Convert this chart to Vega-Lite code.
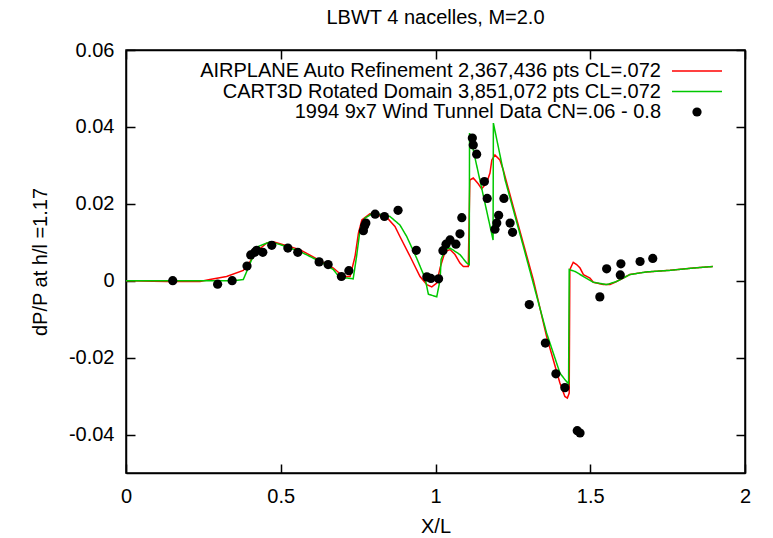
{
  "$schema": "https://vega.github.io/schema/vega-lite/v6.json",
  "width": 619,
  "height": 423,
  "autosize": {"type": "none"},
  "padding": {"left": 126, "top": 50, "right": 28, "bottom": 65},
  "background": "white",
  "title": {"text": "LBWT 4 nacelles, M=2.0", "fontSize": 20, "font": "Liberation Sans", "fontWeight": "normal", "color": "black", "offset": 12, "anchor": "middle"},
  "config": {
    "font": "Liberation Sans",
    "view": {"stroke": "black", "strokeWidth": 1.5},
    "axis": {
      "grid": false,
      "domainColor": "black",
      "domainWidth": 1.5,
      "tickColor": "black",
      "tickWidth": 1.5,
      "tickSize": -9,
      "labelFont": "Liberation Sans",
      "labelFontSize": 20,
      "labelColor": "black",
      "labelFlush": false,
      "labelOverlap": false,
      "titleFont": "Liberation Sans",
      "titleFontSize": 20,
      "titleFontWeight": "normal",
      "titleColor": "black"
    }
  },
  "datasets": {
    "airplane": [
      {"x": 0, "y": 0}, {"x": 0.132, "y": -0.0002}, {"x": 0.239, "y": -0.0002}, {"x": 0.271, "y": 0.0003},
      {"x": 0.325, "y": 0.0011}, {"x": 0.379, "y": 0.0027}, {"x": 0.401, "y": 0.005}, {"x": 0.422, "y": 0.0076},
      {"x": 0.455, "y": 0.0098}, {"x": 0.476, "y": 0.0101}, {"x": 0.562, "y": 0.0081}, {"x": 0.67, "y": 0.0033},
      {"x": 0.702, "y": 0.0011}, {"x": 0.724, "y": 0.0011}, {"x": 0.74, "y": 0.0063}, {"x": 0.751, "y": 0.0124},
      {"x": 0.762, "y": 0.0158}, {"x": 0.788, "y": 0.0174}, {"x": 0.842, "y": 0.0165}, {"x": 0.869, "y": 0.0141},
      {"x": 0.885, "y": 0.0115}, {"x": 0.918, "y": 0.0063}, {"x": 0.95, "y": 0.0011}, {"x": 0.972, "y": -0.001},
      {"x": 0.988, "y": -0.0016}, {"x": 1.004, "y": -0.0006}, {"x": 1.015, "y": 0.0034}, {"x": 1.031, "y": 0.0076},
      {"x": 1.047, "y": 0.0081}, {"x": 1.063, "y": 0.0068}, {"x": 1.079, "y": 0.0046}, {"x": 1.09, "y": 0.0037},
      {"x": 1.106, "y": 0.0037}, {"x": 1.111, "y": 0.0262}, {"x": 1.122, "y": 0.0267}, {"x": 1.138, "y": 0.0252},
      {"x": 1.149, "y": 0.0239}, {"x": 1.165, "y": 0.0254}, {"x": 1.176, "y": 0.028}, {"x": 1.182, "y": 0.0314},
      {"x": 1.192, "y": 0.0327}, {"x": 1.208, "y": 0.0314}, {"x": 1.219, "y": 0.0288}, {"x": 1.251, "y": 0.0193},
      {"x": 1.284, "y": 0.0096}, {"x": 1.316, "y": 0.0003}, {"x": 1.359, "y": -0.0145}, {"x": 1.402, "y": -0.0266},
      {"x": 1.418, "y": -0.0301}, {"x": 1.426, "y": -0.0305}, {"x": 1.432, "y": -0.0292}, {"x": 1.434, "y": 0.0029},
      {"x": 1.445, "y": 0.0048}, {"x": 1.456, "y": 0.0042}, {"x": 1.467, "y": 0.0033}, {"x": 1.478, "y": 0.0016},
      {"x": 1.499, "y": 0.0007}, {"x": 1.51, "y": -0.0004}, {"x": 1.542, "y": -0.001}, {"x": 1.564, "y": -0.001},
      {"x": 1.585, "y": -0.0002}, {"x": 1.628, "y": 0.0016}, {"x": 1.682, "y": 0.0023}, {"x": 1.758, "y": 0.0027},
      {"x": 1.833, "y": 0.0033}, {"x": 1.896, "y": 0.0037}
    ],
    "cart3d": [
      {"x": 0, "y": 0}, {"x": 0.346, "y": 0}, {"x": 0.379, "y": 0.0003}, {"x": 0.39, "y": 0.0024},
      {"x": 0.406, "y": 0.0055}, {"x": 0.427, "y": 0.0089}, {"x": 0.465, "y": 0.0101}, {"x": 0.498, "y": 0.0094},
      {"x": 0.562, "y": 0.0076}, {"x": 0.627, "y": 0.005}, {"x": 0.67, "y": 0.0029}, {"x": 0.691, "y": 0.0007},
      {"x": 0.713, "y": 0.0007}, {"x": 0.734, "y": 0.0005}, {"x": 0.745, "y": 0.0063}, {"x": 0.756, "y": 0.0132},
      {"x": 0.772, "y": 0.0163}, {"x": 0.799, "y": 0.0176}, {"x": 0.853, "y": 0.0167}, {"x": 0.885, "y": 0.0145},
      {"x": 0.907, "y": 0.0115}, {"x": 0.939, "y": 0.0059}, {"x": 0.966, "y": 0.0007}, {"x": 0.977, "y": -0.0035},
      {"x": 1.004, "y": -0.0042}, {"x": 1.015, "y": 0.0003}, {"x": 1.018, "y": 0.0055}, {"x": 1.031, "y": 0.0081},
      {"x": 1.047, "y": 0.0085}, {"x": 1.079, "y": 0.0068}, {"x": 1.101, "y": 0.0046}, {"x": 1.109, "y": 0.0042},
      {"x": 1.11, "y": 0.0384}, {"x": 1.186, "y": 0.0106}, {"x": 1.187, "y": 0.041}, {"x": 1.225, "y": 0.0262},
      {"x": 1.284, "y": 0.0089}, {"x": 1.359, "y": -0.0136}, {"x": 1.402, "y": -0.024}, {"x": 1.418, "y": -0.0257},
      {"x": 1.43, "y": -0.0268}, {"x": 1.432, "y": 0.0029}, {"x": 1.451, "y": 0.0024}, {"x": 1.478, "y": 0.0011},
      {"x": 1.51, "y": -0.0004}, {"x": 1.553, "y": -0.001}, {"x": 1.585, "y": -0.0002}, {"x": 1.628, "y": 0.0016},
      {"x": 1.682, "y": 0.0023}, {"x": 1.758, "y": 0.0027}, {"x": 1.833, "y": 0.0033}, {"x": 1.896, "y": 0.0037}
    ],
    "tunnel": [
      {"x": 0.151, "y": 0}, {"x": 0.296, "y": -0.0009}, {"x": 0.343, "y": 0}, {"x": 0.391, "y": 0.0038},
      {"x": 0.403, "y": 0.0067}, {"x": 0.416, "y": 0.0074}, {"x": 0.422, "y": 0.0079}, {"x": 0.442, "y": 0.0074},
      {"x": 0.471, "y": 0.0092}, {"x": 0.523, "y": 0.0085}, {"x": 0.555, "y": 0.0074}, {"x": 0.624, "y": 0.0049},
      {"x": 0.653, "y": 0.0042}, {"x": 0.696, "y": 0.0011}, {"x": 0.72, "y": 0.0026}, {"x": 0.767, "y": 0.013},
      {"x": 0.771, "y": 0.0143}, {"x": 0.775, "y": 0.015}, {"x": 0.805, "y": 0.0173}, {"x": 0.835, "y": 0.0167},
      {"x": 0.879, "y": 0.0183}, {"x": 0.938, "y": 0.0079}, {"x": 0.972, "y": 0.001}, {"x": 0.985, "y": 0.0006},
      {"x": 1.01, "y": 0.0005}, {"x": 1.024, "y": 0.0078}, {"x": 1.034, "y": 0.0095}, {"x": 1.047, "y": 0.0106},
      {"x": 1.066, "y": 0.0095}, {"x": 1.079, "y": 0.0122}, {"x": 1.085, "y": 0.0164}, {"x": 1.119, "y": 0.0371},
      {"x": 1.122, "y": 0.0353}, {"x": 1.133, "y": 0.0329}, {"x": 1.158, "y": 0.0258}, {"x": 1.167, "y": 0.0214},
      {"x": 1.192, "y": 0.0134}, {"x": 1.198, "y": 0.015}, {"x": 1.204, "y": 0.017}, {"x": 1.221, "y": 0.0214},
      {"x": 1.241, "y": 0.015}, {"x": 1.249, "y": 0.0126}, {"x": 1.303, "y": -0.0062}, {"x": 1.355, "y": -0.0162},
      {"x": 1.389, "y": -0.0242}, {"x": 1.418, "y": -0.0278}, {"x": 1.458, "y": -0.039}, {"x": 1.467, "y": -0.0396},
      {"x": 1.531, "y": -0.0042}, {"x": 1.553, "y": 0.0031}, {"x": 1.597, "y": 0.0015}, {"x": 1.599, "y": 0.0044},
      {"x": 1.661, "y": 0.005}, {"x": 1.702, "y": 0.0058}
    ]
  },
  "layer": [
    {
      "data": {"name": "airplane"},
      "mark": {"type": "line", "strokeWidth": 1.5, "clip": true},
      "encoding": {
        "x": {"field": "x", "type": "quantitative", "scale": {"domain": [0, 2], "nice": false, "zero": false},
          "axis": {"orient": "bottom", "title": "X/L", "values": [0, 0.5, 1, 1.5, 2], "format": "~g", "labelPadding": 22, "titlePadding": 10}},
        "y": {"field": "y", "type": "quantitative", "scale": {"domain": [-0.05, 0.06], "nice": false, "zero": false},
          "axis": {"orient": "left", "title": "dP/P at h/l =1.17", "values": [-0.04, -0.02, 0, 0.02, 0.04, 0.06],
            "labelExpr": "replace(format(datum.value, '.2~f'), '\u2212', '-')", "labelPadding": 21, "titlePadding": 18}},
        "color": {"datum": "AIRPLANE Auto Refinement 2,367,436 pts CL=.072", "type": "nominal",
          "scale": {"domain": ["AIRPLANE Auto Refinement 2,367,436 pts CL=.072"], "range": ["#ff0000"]},
          "legend": {"title": null, "orient": "none", "legendX": 545, "legendY": -5, "padding": 0,
            "symbolType": "stroke", "symbolSize": 2500, "symbolStrokeWidth": 1.5,
            "labelAlign": "right", "labelOffset": -62, "labelFontSize": 20, "labelFont": "Liberation Sans", "labelColor": "black", "labelLimit": 0}
        }
      }
    },
    {
      "data": {"name": "cart3d"},
      "mark": {"type": "line", "strokeWidth": 1.5, "clip": true, "color": "#00c800"},
      "encoding": {
        "x": {"field": "x", "type": "quantitative", "axis": {"orient": "top", "title": null, "labels": false, "values": [0, 0.5, 1, 1.5, 2]}},
        "y": {"field": "y", "type": "quantitative", "axis": {"orient": "right", "title": null, "labels": false, "values": [-0.04, -0.02, 0, 0.02, 0.04, 0.06]}},
        "strokeDash": {"datum": "CART3D Rotated Domain 3,851,072 pts CL=.072", "type": "nominal",
          "scale": {"domain": ["CART3D Rotated Domain 3,851,072 pts CL=.072"], "range": [[1, 0]]},
          "legend": {"title": null, "orient": "none", "legendX": 545, "legendY": 15.5, "padding": 0,
            "symbolType": "stroke", "symbolSize": 2500, "symbolStrokeWidth": 1.5, "symbolStrokeColor": "#00c800",
            "labelAlign": "right", "labelOffset": -62, "labelFontSize": 20, "labelFont": "Liberation Sans", "labelColor": "black", "labelLimit": 0}
        }
      }
    },
    {
      "data": {"name": "tunnel"},
      "mark": {"type": "point", "filled": true, "size": 85, "opacity": 1, "color": "black"},
      "encoding": {
        "x": {"field": "x", "type": "quantitative", "axis": null},
        "y": {"field": "y", "type": "quantitative", "axis": null},
        "shape": {"datum": "1994 9x7 Wind Tunnel Data CN=.06 - 0.8", "type": "nominal",
          "scale": {"domain": ["1994 9x7 Wind Tunnel Data CN=.06 - 0.8"], "range": ["circle"]},
          "legend": {"title": null, "orient": "none", "legendX": 561, "legendY": 52, "padding": 0,
            "symbolType": "circle", "symbolSize": 85, "symbolFillColor": "black", "symbolStrokeWidth": 0, "symbolOpacity": 1,
            "labelAlign": "right", "labelOffset": -46, "labelFontSize": 20, "labelFont": "Liberation Sans", "labelColor": "black", "labelLimit": 0}
        }
      }
    }
  ],
  "resolve": {"scale": {"x": "shared", "y": "shared", "color": "shared"}, "axis": {"x": "independent", "y": "independent"}}
}
